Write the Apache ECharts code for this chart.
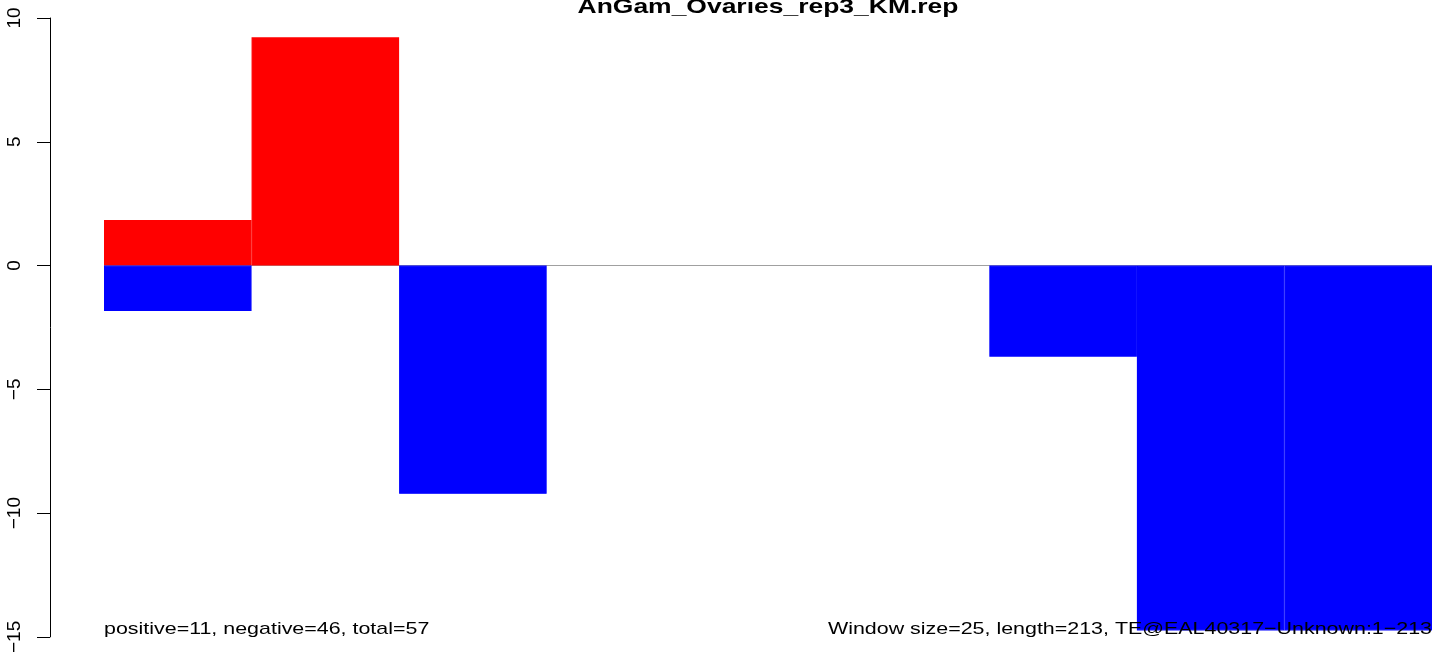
<!DOCTYPE html>
<html><head><meta charset="utf-8">
<script src="https://cdn.jsdelivr.net/npm/echarts@6/dist/echarts.min.js"></script>
<style>html,body{margin:0;padding:0;background:#fff;}#c{width:1452px;height:656px;}</style>
</head><body><div id="c"></div>
<script>
const categories = ['1','2','3','4','5','6','7','8','9'];
const positiveValues = [1.84, 9.22, 0, 0, 0, 0, 0, 0, 0];
const negativeValues = [-1.84, 0, -9.22, 0, 0, 0, -3.68, -14.74, -14.74];
const yTicks = [-15, -10, -5, 0, 5, 10];
const titleText = 'AnGam_Ovaries_rep3_KM.rep';
const leftNote = 'positive=11, negative=46, total=57';
const rightNote = 'Window size=25, length=213, TE@EAL40317\u2212Unknown:1\u2212213';

const chart = echarts.init(document.getElementById('c'), null, {renderer: 'canvas'});
const font = 'Liberation Sans, Arial, Helvetica, sans-serif';
const stretch = 1.26;
const nz = arr => arr.map(v => (v === 0 ? null : v));
chart.setOption({
  animation: false,
  backgroundColor: '#fff',
  grid: {left: 104, right: 20, top: 18, bottom: 16, containLabel: false},
  xAxis: {type: 'category', data: categories, show: false, boundaryGap: true},
  yAxis: {
    type: 'value', min: yTicks[0], max: yTicks[yTicks.length - 1], interval: 5,
    offset: 54,
    axisLine: {show: true, lineStyle: {color: '#000', width: 1}},
    axisTick: {show: true, length: 13, lineStyle: {color: '#000'}},
    axisLabel: {show: true, rotate: 90, margin: 26, color: '#000', fontSize: 19, fontFamily: font,
      formatter: v => String(v).replace('-', '\u2212')},
    splitLine: {show: false}
  },
  series: [
    {type: 'bar', name: 'positive', stack: 's', data: nz(positiveValues), barWidth: '100%',
     itemStyle: {color: '#FF0000', borderColor: '#FF0000', borderWidth: 1.2}, z: 2,
     markLine: {silent: true, symbol: 'none', label: {show: false}, z: 1,
       lineStyle: {color: '#A0A0A0', width: 1.2, type: 'solid'}, data: [{yAxis: 0}]}},
    {type: 'bar', name: 'negative', stack: 's', data: nz(negativeValues), barWidth: '100%',
     itemStyle: {color: '#0000FF', borderColor: '#0000FF', borderWidth: 1.2}, z: 2}
  ],
  graphic: [
    {type: 'text', x: 768, y: 7, scaleX: stretch, z: 10,
     style: {text: titleText, font: 'bold 21px ' + font, fill: '#000', textAlign: 'center', textVerticalAlign: 'middle'}},
    {type: 'text', x: 104, y: 629, scaleX: stretch, z: 10,
     style: {text: leftNote, font: '17px ' + font, fill: '#000', textAlign: 'left', textVerticalAlign: 'middle'}},
    {type: 'text', x: 1432, y: 629, scaleX: stretch, z: 10,
     style: {text: rightNote, font: '17px ' + font, fill: '#000', textAlign: 'right', textVerticalAlign: 'middle'}}
  ]
});
</script></body></html>
